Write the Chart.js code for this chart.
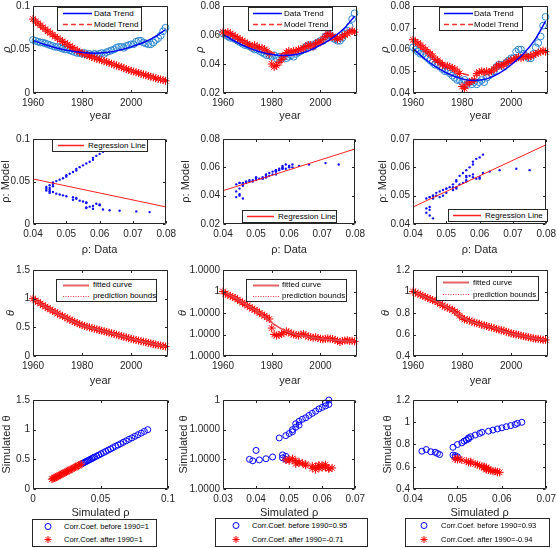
<!DOCTYPE html>
<html><head><meta charset="utf-8">
<script src="https://cdn.jsdelivr.net/npm/chart.js@4/dist/chart.umd.min.js"></script>
<style>
html,body{margin:0;padding:0;background:#fff;}
body{width:557px;height:548px;position:relative;overflow:hidden;font-family:"Liberation Sans",Arial,sans-serif;}
canvas{position:absolute;}
.lg{position:absolute;border:1px solid #262626;background:#fff;color:#000;box-sizing:border-box;z-index:10;}
.lg span{position:absolute;white-space:nowrap;}
.lg svg{position:absolute;overflow:visible;}
</style>
</head><body>
<script>
const YEARS=[1960,1961,1962,1963,1964,1965,1966,1967,1968,1969,1970,1971,1972,1973,1974,1975,1976,1977,1978,1979,1980,1981,1982,1983,1984,1985,1986,1987,1988,1989,1990,1991,1992,1993,1994,1995,1996,1997,1998,1999,2000,2001,2002,2003,2004,2005,2006,2007,2008,2009,2010,2011,2012,2013,2014];
const RHO_DATA=[0.061,0.060,0.059,0.058,0.058,0.057,0.056,0.055,0.054,0.053,
0.053,0.052,0.051,0.050,0.050,0.049,0.048,0.047,0.046,0.046,
0.045,0.046,0.044,0.045,0.044,0.045,0.044,0.045,0.046,0.045,
0.047,0.048,0.049,0.050,0.052,0.053,0.053,0.052,0.054,0.055,
0.056,0.056,0.059,0.060,0.060,0.058,0.057,0.056,0.056,0.058,
0.061,0.063,0.066,0.071,0.075];
const RHO_MODEL_1=[0.0850,0.0825,0.0802,0.0778,0.0755,0.0733,0.0711,0.0690,0.0669,0.0649,
0.0630,0.0611,0.0592,0.0575,0.0557,0.0539,0.0522,0.0505,0.0488,0.0472,
0.0456,0.0445,0.0435,0.0424,0.0414,0.0404,0.0394,0.0385,0.0376,0.0366,
0.0357,0.0347,0.0337,0.0326,0.0316,0.0306,0.0296,0.0286,0.0275,0.0265,
0.0255,0.0247,0.0238,0.0230,0.0221,0.0213,0.0204,0.0196,0.0187,0.0179,
0.0170,0.0162,0.0156,0.0148,0.0140];
const RHO_MODEL_2=[0.062,0.061,0.062,0.061,0.060,0.059,0.058,0.057,0.056,0.055,
0.054,0.053,0.052,0.053,0.052,0.051,0.051,0.050,0.049,0.047,
0.040,0.038,0.039,0.041,0.043,0.045,0.048,0.049,0.048,0.049,
0.049,0.050,0.050,0.051,0.052,0.053,0.053,0.052,0.054,0.055,
0.055,0.057,0.059,0.061,0.060,0.059,0.058,0.057,0.058,0.059,
0.060,0.061,0.062,0.063,0.062];
const RHO_MODEL_3=[0.0645,0.0635,0.063,0.062,0.061,0.060,0.059,0.058,0.057,0.0555,
0.055,0.054,0.053,0.0525,0.0525,0.052,0.0515,0.051,0.050,0.049,
0.043,0.042,0.044,0.045,0.0455,0.046,0.049,0.0495,0.050,0.0495,
0.050,0.0495,0.050,0.051,0.052,0.053,0.0525,0.053,0.054,0.0545,
0.055,0.0555,0.056,0.0565,0.056,0.0565,0.057,0.0565,0.057,0.0575,
0.058,0.0585,0.059,0.0595,0.059];
const THETA_1=[1.000,0.971,0.943,0.915,0.888,0.862,0.837,0.812,0.787,0.764,
0.741,0.719,0.697,0.676,0.655,0.634,0.614,0.594,0.574,0.555,
0.537,0.524,0.512,0.499,0.487,0.475,0.464,0.453,0.442,0.431,
0.420,0.408,0.396,0.384,0.372,0.360,0.348,0.336,0.324,0.312,
0.300,0.290,0.280,0.270,0.260,0.250,0.240,0.230,0.220,0.210,
0.200,0.191,0.183,0.174,0.165];
const THETA_2=[1.0000000,0.9999990,0.9999985,0.9999980,0.9999975,0.9999970,0.9999962,0.9999955,0.9999948,0.9999940,
0.9999935,0.9999928,0.9999920,0.9999915,0.9999908,0.9999900,0.9999893,0.9999887,0.9999880,0.9999872,
0.9999830,0.9999800,0.9999795,0.9999798,0.9999802,0.9999808,0.9999815,0.9999810,0.9999805,0.9999800,
0.9999798,0.9999795,0.9999800,0.9999802,0.9999796,0.9999790,0.9999788,0.9999785,0.9999787,0.9999784,
0.9999780,0.9999778,0.9999780,0.9999782,0.9999780,0.9999779,0.9999775,0.9999770,0.9999765,0.9999770,
0.9999772,0.9999773,0.9999770,0.9999771,0.9999768];
const THETA_3=[1.000,0.990,0.980,0.970,0.960,0.950,0.940,0.930,0.920,0.910,
0.900,0.885,0.870,0.860,0.850,0.840,0.830,0.815,0.800,0.775,
0.755,0.740,0.735,0.730,0.720,0.710,0.705,0.700,0.690,0.685,
0.680,0.670,0.665,0.660,0.650,0.645,0.640,0.635,0.625,0.620,
0.610,0.605,0.600,0.595,0.590,0.585,0.580,0.575,0.570,0.565,
0.560,0.560,0.555,0.550,0.550];
const TREND_YEARS=[1960,1965,1970,1975,1980,1985,1990,1995,2000,2005,2010,2014];
const DATA_TREND=[0.0605,0.0555,0.0515,0.0485,0.0465,0.0458,0.0465,0.0490,0.0530,0.0580,0.0650,0.0730];
const MODEL_TREND_1=[0.0850,0.0733,0.0630,0.0539,0.0456,0.0404,0.0357,0.0306,0.0255,0.0213,0.0170,0.0140];
const MODEL_TREND_2=[0.0615,0.0580,0.0540,0.0510,0.0480,0.0470,0.0480,0.0510,0.0540,0.0570,0.0600,0.0620];
const MODEL_TREND_3=[0.0640,0.0600,0.0560,0.0520,0.0490,0.0480,0.0490,0.0510,0.0540,0.0560,0.0580,0.0590];
const FIT_THETA_1=[1.000,0.862,0.741,0.634,0.537,0.475,0.420,0.360,0.300,0.250,0.200,0.165];
const FIT_THETA_2=[1.0000000,0.9999970,0.9999935,0.9999900,0.9999855,0.9999820,0.9999800,0.9999790,0.9999780,0.9999775,0.9999770,0.9999770];
const FIT_THETA_3=[1.000,0.950,0.900,0.840,0.760,0.710,0.680,0.645,0.610,0.585,0.560,0.550];
const REG_X=[0.04,0.08];
const REG_Y_1=[0.053,0.020];
const REG_Y_2=[0.0435,0.073];
const REG_Y_3=[0.046,0.068];
const SPLIT_YEAR=1990;

const YEAR_TICKS=[1960,1980,2000];
const RHO_X_TICKS=[0.04,0.05,0.06,0.07,0.08];
const Y_TICKS_A=[0,0.05,0.1];
const Y_TICKS_B=[0.02,0.04,0.06,0.08];
const Y_TICKS_C=[0.04,0.05,0.06,0.07,0.08];
const Y_TICKS_C2=[0.04,0.05,0.06,0.07];
const THETA_TICKS_1=[0,0.5,1,1.5];
const THETA_TICKS_2=[0.99997,0.99998,0.99999,1,1.00001];
const THETA_LABELS_2=["1.0000","1.0000","1.0000","1","1.0000"];
const THETA_TICKS_2B=[0.99997,0.99998,0.99999,1];
const THETA_LABELS_2B=["1.0000","1.0000","1.0000","1"];
const THETA_TICKS_3=[0.4,0.6,0.8,1,1.2];
const SIM_X_TICKS_1=[0,0.05,0.1];
const SIM_X_TICKS_2=[0.03,0.04,0.05,0.06,0.07];
const SIM_X_TICKS_3=[0.04,0.05,0.06,0.07];

const F='"Liberation Sans", Arial, Helvetica, sans-serif';
const AX='#262626';
const fmt=v=>String(parseFloat(Number(v).toFixed(6)));

function pairs(xs,ys,keep){const o=[];for(let i=0;i<xs.length;i++){if(!keep||keep(i))o.push({x:xs[i],y:ys[i]});}return o;}
const before=i=>YEARS[i]<SPLIT_YEAR, after=i=>YEARS[i]>=SPLIT_YEAR;

function circles(data,color,r){return {data,pointStyle:'circle',pointRadius:r,pointBorderColor:color,borderColor:color,backgroundColor:'rgba(0,0,0,0)',pointBackgroundColor:'rgba(0,0,0,0)',borderWidth:1,pointBorderWidth:1,showLine:false,clip:false};}
function stars(data,r){return {data,pointStyle:'star',pointRadius:r,pointBorderColor:'#ff0000',borderColor:'#ff0000',borderWidth:1,pointBorderWidth:1,showLine:false,clip:false};}
function dots(data){return {data,pointStyle:'circle',pointRadius:1.2,pointBackgroundColor:'#1010ff',backgroundColor:'#1010ff',pointBorderWidth:0,borderWidth:0,showLine:false,clip:false};}
function line(data,color,width,dash){return {data,showLine:true,pointRadius:0,borderColor:color,borderWidth:width,borderDash:dash||[],fill:false,tension:0.4,cubicInterpolationMode:'monotone'};}

const boxPlugin={id:'mbox',afterDatasetsDraw(c){
  const a=c.chartArea,ctx=c.ctx;ctx.save();ctx.strokeStyle=AX;ctx.lineWidth=1;
  const l=Math.round(a.left)+0.5,r=Math.round(a.right)-0.5,t=Math.round(a.top)+0.5,b=Math.round(a.bottom)-0.5;
  ctx.beginPath();ctx.rect(l,t,r-l,b-t);
  const tl=2.5;
  c.scales.x.ticks.forEach(tk=>{const p=Math.round(c.scales.x.getPixelForValue(tk.value))+0.5;ctx.moveTo(p,b);ctx.lineTo(p,b-tl);ctx.moveTo(p,t);ctx.lineTo(p,t+tl);});
  c.scales.y.ticks.forEach(tk=>{const p=Math.round(c.scales.y.getPixelForValue(tk.value))+0.5;ctx.moveTo(l,p);ctx.lineTo(l+tl,p);ctx.moveTo(r,p);ctx.lineTo(r-tl,p);});
  ctx.stroke();ctx.restore();}};

function makeChart(o){
  const CL=Math.max(0,o.ytx-8),CT=o.T-8,CR=o.R+12,CB=o.xty+8;
  const w=CR-CL,h=CB-CT,padL=o.L-CL,padB=CB-o.B;
  const cv=document.createElement('canvas');cv.width=w;cv.height=h;
  cv.style.left=CL+'px';cv.style.top=CT+'px';cv.style.width=w+'px';cv.style.height=h+'px';
  document.body.appendChild(cv);
  const lh=11*1.2/2;
  new Chart(cv,{type:'scatter',data:{datasets:o.datasets},options:{
    responsive:false,animation:false,devicePixelRatio:1,events:[],
    layout:{padding:{top:8,right:12,left:0,bottom:0}},
    plugins:{legend:{display:false},tooltip:{enabled:false}},
    scales:{
      x:{type:'linear',min:o.xMin,max:o.xMax,
        afterBuildTicks:s=>{s.ticks=o.xTicks.map(v=>({value:v}));},
        afterFit:s=>{s.height=padB;},
        grid:{display:false,drawTicks:false},border:{display:false},
        ticks:{padding:4,maxRotation:0,autoSkip:false,color:AX,font:{size:10,family:F},callback:(v,i)=>o.xLabels?o.xLabels[i]:fmt(v)},
        title:{display:true,text:o.xTitle,color:AX,font:{size:11,family:F},padding:{top:0,bottom:8-lh}}},
      y:{type:'linear',min:o.yMin,max:o.yMax,
        afterBuildTicks:s=>{s.ticks=o.yTicks.map(v=>({value:v}));},
        afterFit:s=>{s.width=padL;},
        grid:{display:false,drawTicks:false},border:{display:false},
        ticks:{padding:3,autoSkip:false,color:AX,font:{size:10,family:F},callback:(v,i)=>o.yLabels?o.yLabels[i]:fmt(v)},
        title:{display:true,text:o.yTitle,color:AX,font:{size:11,family:F,style:o.yItalic?'italic':'normal'},padding:{top:(o.ytx-CL)-lh,bottom:0}}}
    }},plugins:[boxPlugin]});
}

function legend(x,y,w,h,items,sx,sw,tx,fs){
  const box=document.createElement('div');box.className='lg';
  box.style.left=x+'px';box.style.top=y+'px';box.style.width=w+'px';box.style.height=h+'px';box.style.fontSize=fs+'px';
  const rh=(h-2)/items.length;let html='';
  items.forEach((it,i)=>{
    const m=Math.floor(rh/2)+0.5;let g='';
    if(it.kind==='line'){g=`<line x1="0" y1="${m}" x2="${sw}" y2="${m}" stroke="${it.color}" stroke-width="${it.width}"${it.dash?` stroke-dasharray="${it.dash}"`:''}/>`;}
    else if(it.kind==='circle'){g=`<circle cx="${sw/2}" cy="${m}" r="3" fill="none" stroke="${it.color}" stroke-width="1"/>`;}
    else if(it.kind==='star'){const c=sw/2,r=3.5,d=r*0.707;g=`<path d="M${c-r} ${m}H${c+r}M${c} ${m-r}V${m+r}M${c-d} ${m-d}L${c+d} ${m+d}M${c-d} ${m+d}L${c+d} ${m-d}" stroke="${it.color}" stroke-width="1" fill="none"/>`;}
    html+=`<svg width="${sw}" height="${rh}" style="left:${sx}px;top:${i*rh}px">${g}</svg>`;
    html+=`<span style="left:${tx}px;top:${i*rh}px;line-height:${rh}px;height:${rh}px">${it.text}</span>`;
  });
  box.innerHTML=html;document.body.appendChild(box);
}

const COLS=[[33,168],[223,357],[413,548]];
const ROWS=[[5,93],[138,224],[269,356],[399,489]];
const CIRC='#2b86d1';
const MODELS=[RHO_MODEL_1,RHO_MODEL_2,RHO_MODEL_3];
const MTRENDS=[MODEL_TREND_1,MODEL_TREND_2,MODEL_TREND_3];
const THETAS=[THETA_1,THETA_2,THETA_3];
const FITS=[FIT_THETA_1,FIT_THETA_2,FIT_THETA_3];
const REGS=[REG_Y_1,REG_Y_2,REG_Y_3];

// Row 1
const r1y=[[0,0.1,Y_TICKS_A],[0.02,0.08,Y_TICKS_B],[0.04,0.08,Y_TICKS_C]];
const r1t=[7,200,385];
for(let c=0;c<3;c++){
  makeChart({L:COLS[c][0],R:COLS[c][1],T:ROWS[0][0],B:ROWS[0][1],ytx:r1t[c],xty:116,
    xMin:1960,xMax:2015,xTicks:YEAR_TICKS,yMin:r1y[c][0],yMax:r1y[c][1],yTicks:r1y[c][2],
    xTitle:'year',yTitle:'ρ',yItalic:true,
    datasets:[line(pairs(TREND_YEARS,DATA_TREND),'#0000ff',1.5),
      line(pairs(TREND_YEARS,MTRENDS[c]),'#ff3030',1.5,[6,4]),
      stars(pairs(YEARS,MODELS[c]),4),
      circles(pairs(YEARS,RHO_DATA),CIRC,3.4)]});
}
// Row 2
const r2y=[[0,0.1,Y_TICKS_A],[0.02,0.08,Y_TICKS_B],[0.04,0.07,Y_TICKS_C2]];
const r2t=[6,186,383];
for(let c=0;c<3;c++){
  makeChart({L:COLS[c][0],R:COLS[c][1],T:ROWS[1][0],B:ROWS[1][1],ytx:r2t[c],xty:250,
    xMin:0.04,xMax:0.08,xTicks:RHO_X_TICKS,yMin:r2y[c][0],yMax:r2y[c][1],yTicks:r2y[c][2],
    xTitle:'ρ: Data',yTitle:'ρ: Model',
    datasets:[line(pairs(REG_X,REGS[c]),'#ff2020',1,[]),dots(pairs(RHO_DATA,MODELS[c]))]});
}
// Row 3
const r3y=[[0,1.5,THETA_TICKS_1,null],[0.99997,1.00001,THETA_TICKS_2,THETA_LABELS_2],[0.4,1.2,THETA_TICKS_3,null]];
const r3t=[11,183,386];
for(let c=0;c<3;c++){
  makeChart({L:COLS[c][0],R:COLS[c][1],T:ROWS[2][0],B:ROWS[2][1],ytx:r3t[c],xty:381,
    xMin:1960,xMax:2015,xTicks:YEAR_TICKS,yMin:r3y[c][0],yMax:r3y[c][1],yTicks:r3y[c][2],yLabels:r3y[c][3],
    xTitle:'year',yTitle:'θ',yItalic:true,
    datasets:[line(pairs(TREND_YEARS,FITS[c]),'#e04a50',1.5),stars(pairs(YEARS,THETAS[c]),4)]});
}
// Row 4
const r4x=[[0,0.1,SIM_X_TICKS_1],[0.03,0.07,SIM_X_TICKS_2],[0.04,0.07,SIM_X_TICKS_3]];
const r4y=[[0,1.5,THETA_TICKS_1,null],[0.99997,1,THETA_TICKS_2B,THETA_LABELS_2B],[0.4,1.2,THETA_TICKS_3,null]];
const r4t=[7,184,388];
for(let c=0;c<3;c++){
  makeChart({L:COLS[c][0],R:COLS[c][1],T:ROWS[3][0],B:ROWS[3][1],ytx:r4t[c],xty:513,
    xMin:r4x[c][0],xMax:r4x[c][1],xTicks:r4x[c][2],yMin:r4y[c][0],yMax:r4y[c][1],yTicks:r4y[c][2],yLabels:r4y[c][3],
    xTitle:'Simulated ρ',yTitle:'Simulated θ',
    datasets:[stars(pairs(MODELS[c],THETAS[c],after),4),circles(pairs(MODELS[c],THETAS[c],before),'#0000ff',3)]});
}

// Legends
const trendItems=[{kind:'line',color:'#0000ff',width:1.5,text:'Data Trend'},{kind:'line',color:'#ff3030',width:1.5,dash:'5 3',text:'Model Trend'}];
legend(57,7,85,24,trendItems,5,29,36,8);
legend(248,7,85,24,trendItems,4,29,35,8);
legend(439,7,84,24,trendItems,4,29,34,8);
const regItems=[{kind:'line',color:'#ff2020',width:1.5,text:'Regression Line'}];
legend(52,139,96,13,regItems,5,26,35,8);
legend(242,210,95,13,regItems,4,27,35,8);
legend(448,209,100,13,regItems,4,28,36,8);
const fitItems=[{kind:'line',color:'#e06468',width:2,text:'fitted curve'},{kind:'line',color:'#ff4040',width:1,dash:'1 1.5',text:'prediction bounds'}];
legend(56,279,101,23,fitItems,6,26,36,8);
legend(246,279,101,23,fitItems,6,26,35,8);
legend(436,276,103,25,fitItems,6,26,36,8);
const CC=[['1','1'],['0.95','-0.71'],['0.93','-0.94']];
const lg4=[[32,519,125,28,9,31],[215,518,153,29,14,36],[405,518,145,29,12,35]];
for(let c=0;c<3;c++){
  const g=lg4[c];
  legend(g[0],g[1],g[2],g[3],[{kind:'circle',color:'#0000ff',text:'Corr.Coef. before 1990='+CC[c][0]},{kind:'star',color:'#ff0000',text:'Corr.Coef. after 1990='+CC[c][1]}],g[4],12,g[5],7.5);
}
</script>
</body></html>
